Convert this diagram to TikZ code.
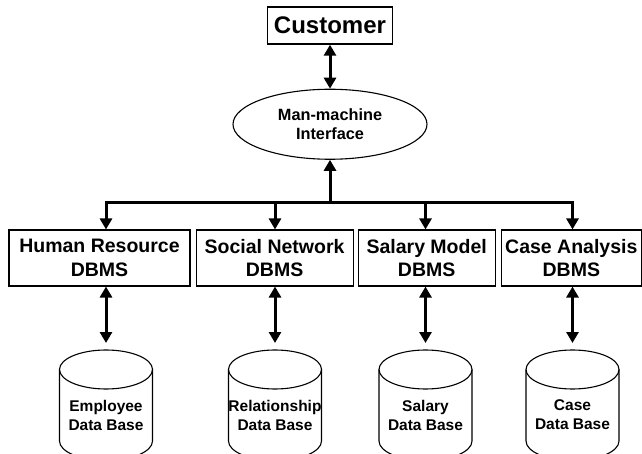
\documentclass[tikz,border=0pt]{standalone}
\usepackage{fontspec}
\setmainfont{Liberation Sans}
\usetikzlibrary{positioning,shapes.geometric,arrows.meta}

\begin{document}
\begin{tikzpicture}[
  x=1pt, y=1pt,
  box/.style={
    draw,
    line width=1.1pt,
    align=center,
    inner sep=0pt,
    font=\bfseries\fontsize{19.5}{23.4}\selectfont
  },
  root/.style={box, line width=1.4pt, minimum width=125pt, minimum height=37pt,
    font=\bfseries\fontsize{24}{26}\selectfont},
  dbms/.style={box, minimum height=56pt},
  iface/.style={draw, ellipse, line width=1.1pt, minimum width=194pt,
    minimum height=70pt, inner sep=0pt, align=center,
    font=\bfseries\fontsize{16.3}{19.3}\selectfont},
  store/.style={minimum width=93pt, minimum height=52pt, inner sep=0pt,
    outer sep=0pt, align=center, font=\bfseries\fontsize{15.5}{19}\selectfont},
  can/.style={line width=1.1pt},
  wire/.style={draw, line width=3pt, line cap=rect},
  line/.style={wire, -{Triangle[width=12pt,length=11pt]}},
  both/.style={wire, {Triangle[width=12pt,length=11pt]}-{Triangle[width=12pt,length=11pt]}}
]
\useasboundingbox (0,0) rectangle (642,-454);

\node[root] (cust) at (330,-25.5) {Customer};
\node[iface, below=44pt of cust] (mmi) {Man-machine\\Interface};
\coordinate[below=43pt of mmi] (bus);

\node[dbms, minimum width=181pt] (hr) at (99.5,-258) {Human Resource\\DBMS};
\node[dbms, minimum width=157pt, right=5pt of hr] (sn) {Social Network\\DBMS};
\node[dbms, minimum width=137pt, right=4pt of sn] (sm) {Salary Model\\DBMS};
\node[dbms, minimum width=140pt, right=5pt of sm] (ca) {Case Analysis\\DBMS};

\node[store] (emp) at (106,-415) {Employee\\Data Base};
\node[store] (rel) at (275,-415) {Relationship\\Data Base};
\node[store] (sal) at (425.5,-415) {Salary\\Data Base};
\node[store] (cas) at (572.5,-415) {Case\\Data Base};

% cylinder outlines
\foreach \c in {emp,rel,sal,cas} {
  \draw[can] ([yshift=19.5pt]\c.north) ellipse [x radius=46.5pt, y radius=19.5pt];
  \draw[can] ([yshift=19.5pt]\c.north west) -- (\c.south west)
    arc[start angle=180, end angle=360, x radius=46.5pt, y radius=19.5pt]
    -- ([yshift=19.5pt]\c.north east);
}

\draw[both] (cust) -- (mmi);
\draw[line] (bus) -- (mmi);
\draw[wire] (bus -| emp) -- (bus -| cas);
\foreach \b/\c in {hr/emp, sn/rel, sm/sal, ca/cas} {
  \draw[line] (bus -| \c) -- (\b.north -| \c);
  \draw[both] (\b.south -| \c) -- ([yshift=46pt]\c.north);
}
\end{tikzpicture}
\end{document}
